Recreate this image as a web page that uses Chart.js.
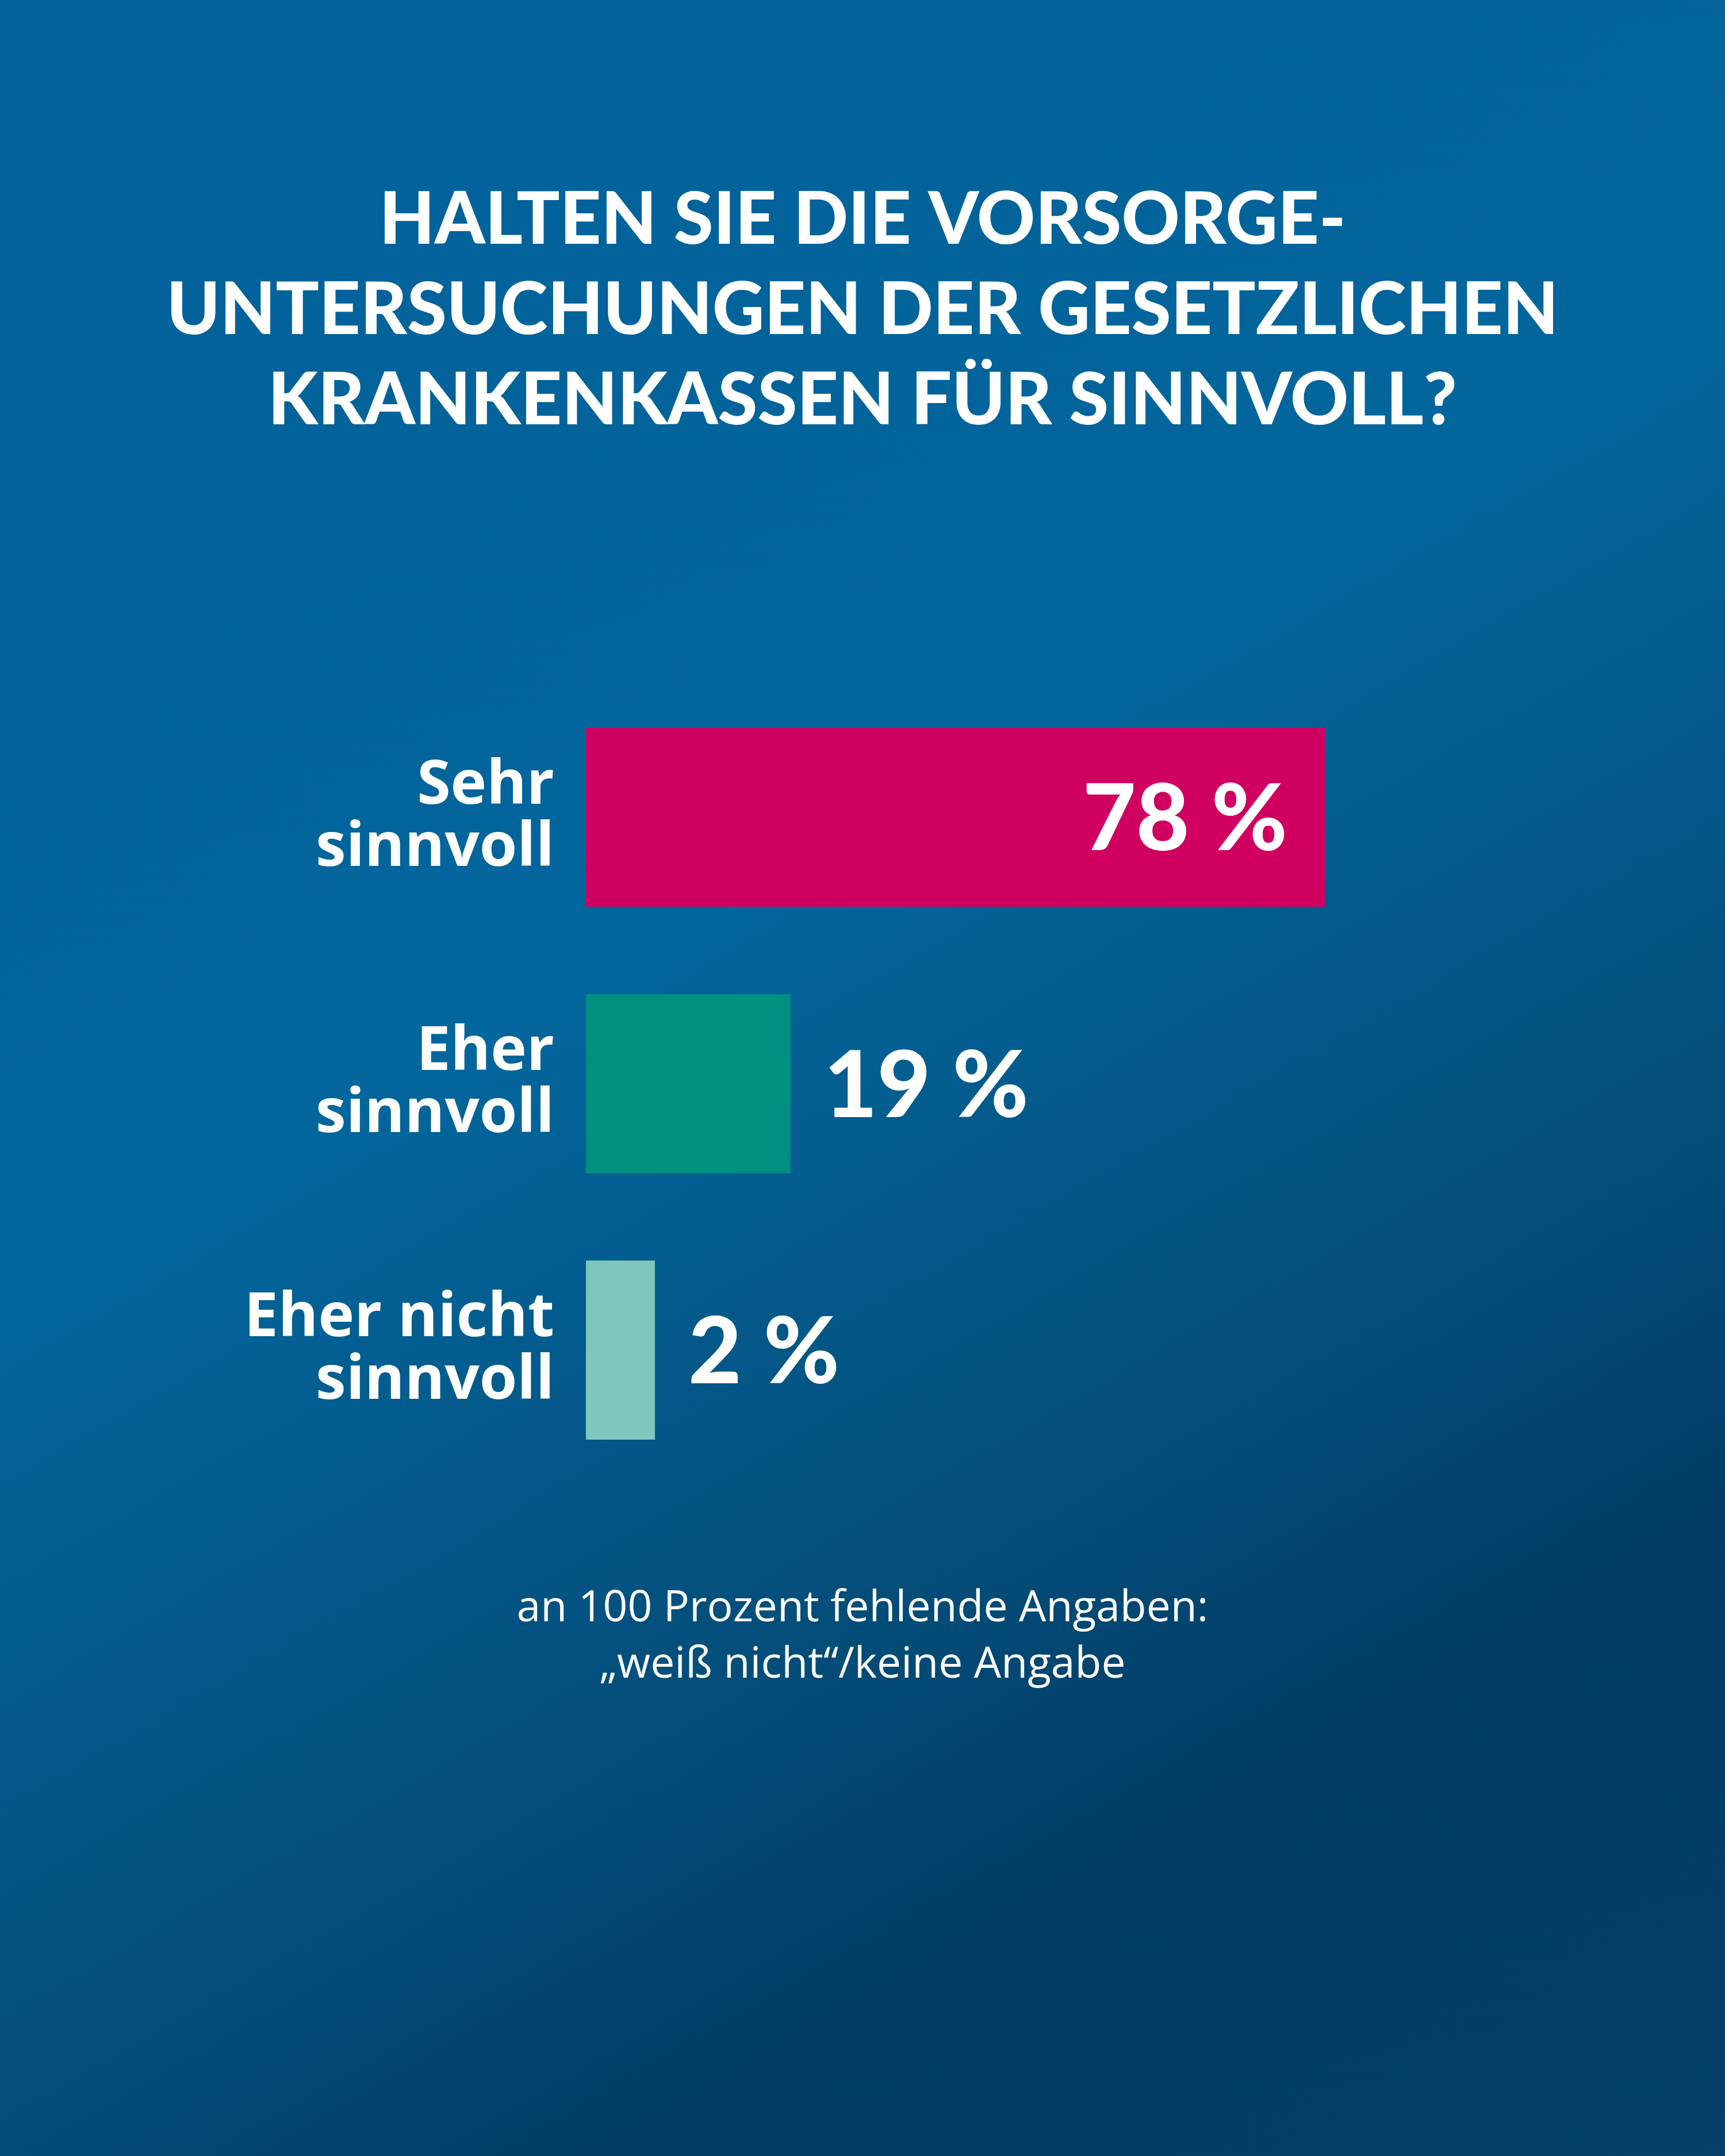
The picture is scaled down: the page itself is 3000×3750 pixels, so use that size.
<!DOCTYPE html>
<html lang="de">
<head>
<meta charset="utf-8">
<title>Vorsorgeuntersuchungen</title>
<script src="https://cdn.jsdelivr.net/npm/chart.js@4.4.1/dist/chart.umd.min.js"></script>
<style>
  html, body { margin: 0; padding: 0; }
  body {
    width: 3000px;
    height: 3750px;
    background: linear-gradient(150deg, #02609a 0%, #03669c 42%, #044c78 68%, #003c66 79%, #033f69 100%);
  }
  canvas { display: block; }
</style>
</head>
<body>
<canvas id="chart" width="3000" height="3750"></canvas>
<script>
// Daten
const categories = [['Sehr', 'sinnvoll'], ['Eher', 'sinnvoll'], ['Eher nicht', 'sinnvoll']];
const shares = [78, 19, 2];
const valueLabels = ['78 %', '19 %', '2 %'];
const barColors = ['#cf0060', '#00907f', '#7fc6bd'];
const titleLines = [
    'HALTEN SIE DIE VORSORGE-',
    'UNTERSUCHUNGEN DER GESETZLICHEN',
    'KRANKENKASSEN FÜR SINNVOLL?'
];
const noteLines = [
    'an 100 Prozent fehlende Angaben:',
    '„weiß nicht“/keine Angabe'
];

// Prozentwerte an die Balken schreiben
const valueLabelPlugin = {
    id: 'valueLabels',
    afterDatasetsDraw(chart) {
        const ctx = chart.ctx;
        const meta = chart.getDatasetMeta(0);
        ctx.save();
        ctx.fillStyle = '#ffffff';
        ctx.font = '900 160px Lato';
        ctx.textBaseline = 'middle';
        meta.data.forEach((bar, i) => {
            const inside = shares[i] > 50; // langer Balken: Text innen
            ctx.textAlign = inside ? 'right' : 'left';
            ctx.fillText(valueLabels[i], inside ? bar.x - 65 : bar.x + 58, bar.y + 6);
        });
        ctx.restore();
    }
};

function drawChart() {
    const ctx = document.getElementById('chart').getContext('2d');
    new Chart(ctx, {
        type: 'bar',
        data: {
            labels: categories,
            datasets: [{
                data: shares,
                backgroundColor: barColors,
                borderWidth: 0,
                base: -3.6,
                minBarLength: 120,
                barPercentage: 0.672,
                categoryPercentage: 1
            }]
        },
        options: {
            indexAxis: 'y',
            responsive: false,
            devicePixelRatio: 1,
            animation: false,
            scales: {
                x: {
                    display: false,
                    min: -3.6,
                    max: 122.2
                },
                y: {
                    grid: { display: false, drawTicks: false },
                    border: { display: false },
                    ticks: {
                        color: '#ffffff',
                        padding: 55,
                        font: { family: 'Open Sans', weight: '700', size: 106, lineHeight: 1.02 }
                    },
                    afterFit(scale) {
                        scale.width = 1019;
                    }
                }
            },
            plugins: {
                legend: { display: false },
                tooltip: { enabled: false },
                title: {
                    display: true,
                    text: titleLines,
                    color: '#ffffff',
                    font: { family: 'Lato', weight: '900', size: 125, lineHeight: 1.256 },
                    padding: { top: 305, bottom: 414 }
                },
                subtitle: {
                    display: true,
                    position: 'bottom',
                    text: noteLines,
                    color: '#ffffff',
                    font: { family: 'Open Sans', weight: '400', size: 75, lineHeight: 1.307 },
                    padding: { top: 170, bottom: 804 }
                }
            }
        },
        plugins: [valueLabelPlugin]
    });
}

Promise.all([
    document.fonts.load('900 125px Lato'),
    document.fonts.load('700 106px "Open Sans"'),
    document.fonts.load('400 75px "Open Sans"')
]).then(drawChart, drawChart);
</script>
</body>
</html>
